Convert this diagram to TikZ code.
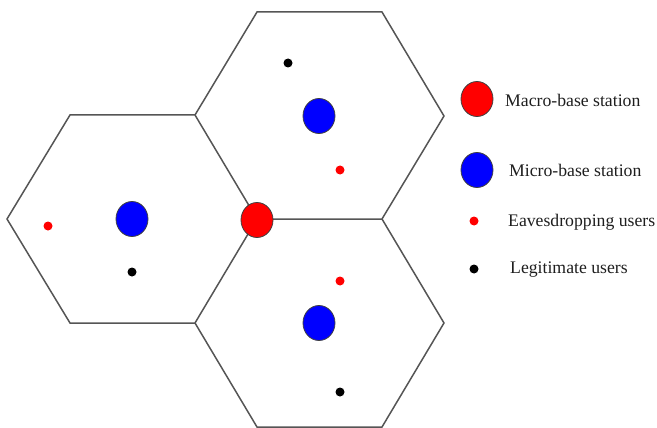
\documentclass[tikz,border=0pt]{standalone}
\usepackage{fontspec}
\setmainfont{Liberation Serif}
\usetikzlibrary{shapes.geometric}
\definecolor{cellline}{RGB}{85,85,85}
\definecolor{txt}{RGB}{30,30,30}
\tikzset{
  cell/.style={draw=cellline, line width=1.5pt, line join=miter},
  macro/.style={ellipse, draw=black!75, line width=0.8pt, fill=red,
    minimum width=32pt, minimum height=35pt, inner sep=0pt},
  micro/.style={ellipse, draw=black!75, line width=0.8pt, fill=blue,
    minimum width=32pt, minimum height=35pt, inner sep=0pt},
  eve/.style={circle, fill=red, minimum size=9pt, inner sep=0pt},
  legit/.style={circle, fill=black, minimum size=9pt, inner sep=0pt},
  legtext/.style={anchor=west, text=txt, font=\fontsize{17.7}{19}\selectfont, inner sep=0pt}
}
\begin{document}
\begin{tikzpicture}[x=1pt, y=-1pt]
\useasboundingbox (0,0) rectangle (657,428);

% hexagon vertices
\coordinate (c)  at (257,219);
\coordinate (l1) at (7,219);
\coordinate (l2) at (70,115);
\coordinate (m1) at (195,115);
\coordinate (m2) at (195,323);
\coordinate (l3) at (70,323);
\coordinate (t1) at (257,12);
\coordinate (t2) at (382,12);
\coordinate (t3) at (444,116);
\coordinate (r1) at (382,219);
\coordinate (b1) at (444,323);
\coordinate (b2) at (382,427);
\coordinate (b3) at (257,427);

% three cells
\draw[cell] (l1) -- (l2) -- (m1) -- (c) -- (m2) -- (l3) -- cycle;
\draw[cell] (m1) -- (t1) -- (t2) -- (t3) -- (r1) -- (c);
\draw[cell] (r1) -- (b1) -- (b2) -- (b3) -- (m2);

% left cell
\node[micro] (s1) at (132,219) {};
\node[eve]   (e1) at (48,226) {};
\node[legit] (u1) at (132,272) {};

% upper right cell
\node[micro] (s2) at (319,116) {};
\node[legit] (u2) at (288,63) {};
\node[eve]   (e2) at (340,170) {};

% lower right cell
\node[micro] (s3) at (319,323) {};
\node[eve]   (e3) at (340,281) {};
\node[legit] (u3) at (340,392) {};

% macro base station at the shared corner
\node[macro] (mb) at (257,220) {};

% legend
\node[macro] (k1) at (477,99) {};
\node[legtext] (k1t) at (505,100) {Macro-base station};
\node[micro] (k2) at (477,170) {};
\node[legtext] (k2t) at (509,170) {Micro-base station};
\node[eve]   (k3) at (474,221) {};
\node[legtext] (k3t) at (508,222) {Eavesdropping users};
\node[legit] (k4) at (474,269) {};
\node[legtext] (k4t) at (510,270) {Legitimate users};
\end{tikzpicture}
\end{document}
